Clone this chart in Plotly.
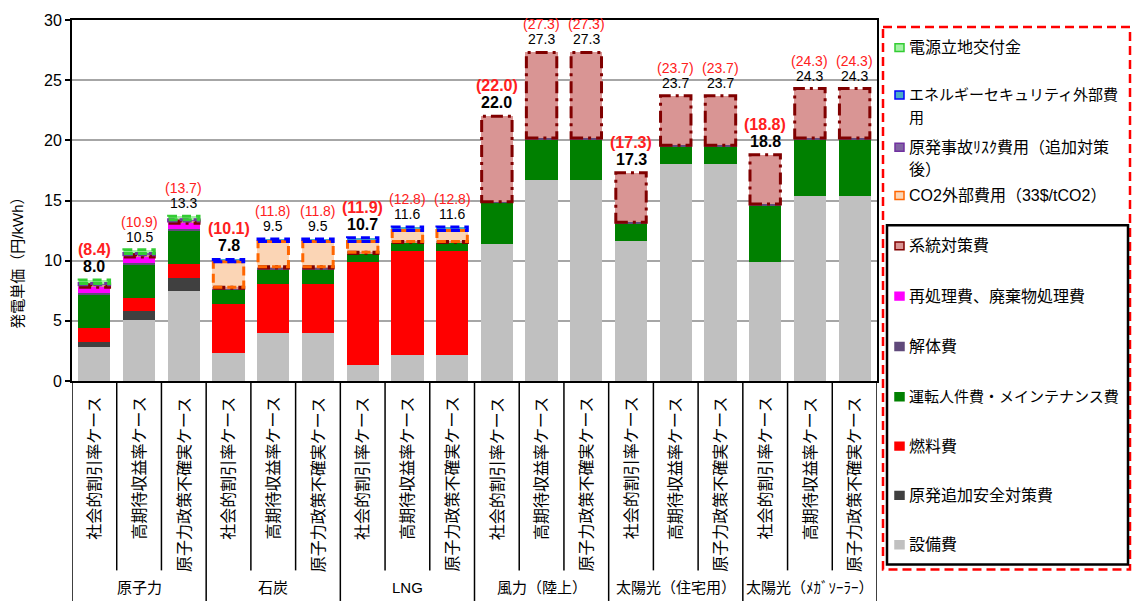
import plotly.graph_objects as go

# ---- data -----------------------------------------------------------------
groups = ["原子力", "石炭", "LNG", "風力（陸上）", "太陽光（住宅用）", "太陽光（ﾒｶﾞｿｰﾗｰ）"]
cases = ["社会的割引率ケース", "高期待収益率ケース", "原子力政策不確実ケース"]

# base cost components (円/kWh), 18 bars = 6 sources x 3 cases
setsubi = [2.8, 5.1, 7.5, 2.3, 4.0, 4.0, 1.3, 2.2, 2.2, 11.4, 16.7, 16.7, 11.6, 18.0, 18.0, 9.9, 15.4, 15.4]
anzen = [0.4, 0.7, 1.1, 0, 0, 0, 0, 0, 0, 0, 0, 0, 0, 0, 0, 0, 0, 0]
nenryo = [1.2, 1.1, 1.1, 4.1, 4.1, 4.1, 8.6, 8.6, 8.6, 0, 0, 0, 0, 0, 0, 0, 0, 0]
unten = [2.8, 2.8, 2.8, 1.2, 1.2, 1.2, 0.7, 0.7, 0.7, 3.4, 3.4, 3.4, 1.5, 1.5, 1.5, 4.7, 4.7, 4.7]
kaitai = [0.1, 0.1, 0.1, 0.1, 0.1, 0.1, 0, 0, 0, 0.1, 0.1, 0.1, 0.1, 0.1, 0.1, 0.1, 0.1, 0.1]
saishori = [0.5, 0.5, 0.5, 0, 0, 0, 0, 0, 0, 0, 0, 0, 0, 0, 0, 0, 0, 0]
keito = [0.2, 0.2, 0.2, 0.1, 0.1, 0.1, 0.1, 0.1, 0.1, 7.1, 7.1, 7.1, 4.1, 4.1, 4.1, 4.1, 4.1, 4.1]
# external / policy costs
co2 = [0, 0, 0, 2.1, 2.1, 2.1, 0.9, 0.9, 0.9, 0, 0, 0, 0, 0, 0, 0, 0, 0]
jiko = [0.1, 0.1, 0.1, 0, 0, 0, 0, 0, 0, 0, 0, 0, 0, 0, 0, 0, 0, 0]
security = [0, 0, 0, 0.2, 0.2, 0.2, 0.3, 0.3, 0.3, 0, 0, 0, 0, 0, 0, 0, 0, 0]
ritchi = [0.3, 0.3, 0.3, 0, 0, 0, 0, 0, 0, 0, 0, 0, 0, 0, 0, 0, 0, 0]

# stacking order bottom -> top: (name, values, fill, border colour, dash, external)
series = [
    ("設備費", setsubi, "#C0C0C0", None, None, False),
    ("原発追加安全対策費", anzen, "#404040", None, None, False),
    ("燃料費", nenryo, "#FF0000", None, None, False),
    ("運転人件費・メインテナンス費", unten, "#008000", None, None, False),
    ("解体費", kaitai, "#604A7B", None, None, False),
    ("再処理費、廃棄物処理費", saishori, "#FF00FF", None, None, False),
    ("系統対策費", keito, "#D99594", "#800000", "12px,5px,3px,5px", False),
    ("CO2外部費用（33$/tCO2）", co2, "#FBD5B5", "#FF6600", "9px,5px", True),
    ("原発事故ﾘｽｸ費用（追加対策後）", jiko, "#8064A2", "#7030A0", "9px,5px", True),
    ("エネルギーセキュリティ外部費用", security, "#4BACC6", "#0000FF", "9px,5px", True),
    ("電源立地交付金", ritchi, "#A6F2A6", "#33CC33", "9px,5px", True),
]

n = len(setsubi)
xs = list(range(n))
BW = 0.72

# plot-area geometry in pixels (figure 1132 x 604)
L, R, T, B = 72, 877, 15, 381
W, H = R - L, B - T


def px(xp):
    return (xp - L) / W


def py(yp):
    return (B - yp) / H


JP = "Liberation Sans, Noto Sans CJK JP, sans-serif"
NUM = "Liberation Sans, Arial, sans-serif"

fig = go.Figure()
shapes = []
cum = [0.0] * n
for name, vals, fill, border, dash, ext in series:
    fig.add_trace(go.Bar(
        x=xs, y=vals, base=cum[:], width=BW, name=name,
        marker=dict(color=fill, line=dict(width=0)),
        showlegend=False, hoverinfo="name+y",
    ))
    if border:
        for i, v in enumerate(vals):
            if v > 0:
                shapes.append(dict(
                    type="rect", xref="x", yref="y", layer="above",
                    x0=i - BW / 2 + 0.02, x1=i + BW / 2 - 0.02,
                    y0=cum[i], y1=cum[i] + v,
                    line=dict(color=border, width=3, dash=dash),
                    fillcolor="rgba(0,0,0,0)",
                ))
    cum = [c + v for c, v in zip(cum, vals)]

base_total = [sum(s[1][i] for s in series if not s[5]) for i in range(n)]
full_total = cum

annotations = []
for i in range(n):
    social = (i % 3 == 0)
    size = 16 if social else 14
    wt = "bold" if social else "normal"
    gap = 17 if social else 15
    annotations.append(dict(
        x=i, y=full_total[i], xref="x", yref="y", yanchor="bottom",
        text=f"{base_total[i]:.1f}", showarrow=False, yshift=3,
        font=dict(size=size, color="#000000", family=NUM, weight=wt),
    ))
    annotations.append(dict(
        x=i, y=full_total[i], xref="x", yref="y", yanchor="bottom",
        text=f"({full_total[i]:.1f})", showarrow=False, yshift=3 + gap,
        font=dict(size=size, color="#FF2020", family=NUM, weight=wt),
    ))
    # rotated case label under each bar
    annotations.append(dict(
        x=i, y=py(395), xref="x", yref="paper", yanchor="top", xanchor="center",
        text=cases[i % 3], textangle=-90, showarrow=False,
        font=dict(size=16, color="#000000", family=JP),
    ))

for g, name in enumerate(groups):
    annotations.append(dict(
        x=3 * g + 1, y=py(590), xref="x", yref="paper", yanchor="middle",
        text=name, showarrow=False, font=dict(size=15, color="#000000", family=JP),
    ))

# category separators below the axis
for k in range(n + 1):
    bottom = 604 if k % 3 == 0 else 573
    shapes.append(dict(
        type="line", xref="x", yref="paper", x0=k - 0.5, x1=k - 0.5,
        y0=0, y1=py(bottom), line=dict(color="#000000", width=1.5),
    ))

# y-axis title
annotations.append(dict(
    x=px(18), y=py(258), xref="paper", yref="paper", text="発電単価（円/kWh）",
    textangle=-90, showarrow=False, xanchor="center", yanchor="middle",
    font=dict(size=15, color="#000000", family=JP),
))

# ---- legend panel ----------------------------------------------------------
shapes.append(dict(type="rect", xref="paper", yref="paper",
                   x0=px(883), x1=px(1130), y0=py(22), y1=py(572),
                   line=dict(color="#FF0000", width=2.5, dash="9px,5px"),
                   fillcolor="rgba(0,0,0,0)"))
shapes.append(dict(type="rect", xref="paper", yref="paper",
                   x0=px(887), x1=px(1128), y0=py(223), y1=py(567),
                   line=dict(color="#000000", width=2.5),
                   fillcolor="rgba(0,0,0,0)"))

legend_rows = [
    # (series name, lines of text, y of first line, font size)
    ("電源立地交付金", ["電源立地交付金"], 43, 16),
    ("エネルギーセキュリティ外部費用", ["エネルギーセキュリティ外部費", "用"], 91, 15),
    ("原発事故ﾘｽｸ費用（追加対策後）", ["原発事故ﾘｽｸ費用（追加対策", "後）"], 144, 16),
    ("CO2外部費用（33$/tCO2）", ["CO2外部費用（33$/tCO2）"], 193, 16),
    ("系統対策費", ["系統対策費"], 244, 16),
    ("再処理費、廃棄物処理費", ["再処理費、廃棄物処理費"], 295, 16),
    ("解体費", ["解体費"], 346, 16),
    ("運転人件費・メインテナンス費", ["運転人件費・メインテナンス費"], 397, 15),
    ("燃料費", ["燃料費"], 447, 16),
    ("原発追加安全対策費", ["原発追加安全対策費"], 497, 16),
    ("設備費", ["設備費"], 547, 16),
]
style = {s[0]: s for s in series}
for name, lines, yc, fs in legend_rows:
    _, _, fill, border, _, _ = style[name]
    shapes.append(dict(
        type="rect", xref="paper", yref="paper",
        x0=px(895), x1=px(904), y0=py(yc + 4), y1=py(yc - 4),
        fillcolor=fill, line=dict(color=border if border else fill, width=1.5),
    ))
    for j, line in enumerate(lines):
        annotations.append(dict(
            x=px(907), y=py(yc + j * 23), xref="paper", yref="paper",
            xanchor="left", yanchor="middle", text=line, showarrow=False,
            font=dict(size=fs, color="#000000", family=JP),
        ))

fig.update_layout(
    width=1132, height=604,
    margin=dict(l=L, r=1132 - R, t=T, b=604 - B),
    paper_bgcolor="#FFFFFF", plot_bgcolor="#FFFFFF",
    barmode="overlay", bargap=0,
    shapes=shapes, annotations=annotations,
    xaxis=dict(range=[-0.5, n - 0.5], showticklabels=False, ticks="",
               showgrid=False, zeroline=False, showline=True, mirror=True,
               linecolor="#000000", linewidth=2),
    yaxis=dict(range=[0, 30], dtick=5, ticks="outside", ticklen=5,
               tickcolor="#000000", tickwidth=1.5,
               showgrid=True, gridcolor="#A6A6A6", gridwidth=1.5,
               zeroline=False, showline=True, mirror=True,
               linecolor="#000000", linewidth=2,
               tickfont=dict(size=16, color="#000000", family=NUM)),
    font=dict(family=JP),
)

fig.write_html("out.html")
